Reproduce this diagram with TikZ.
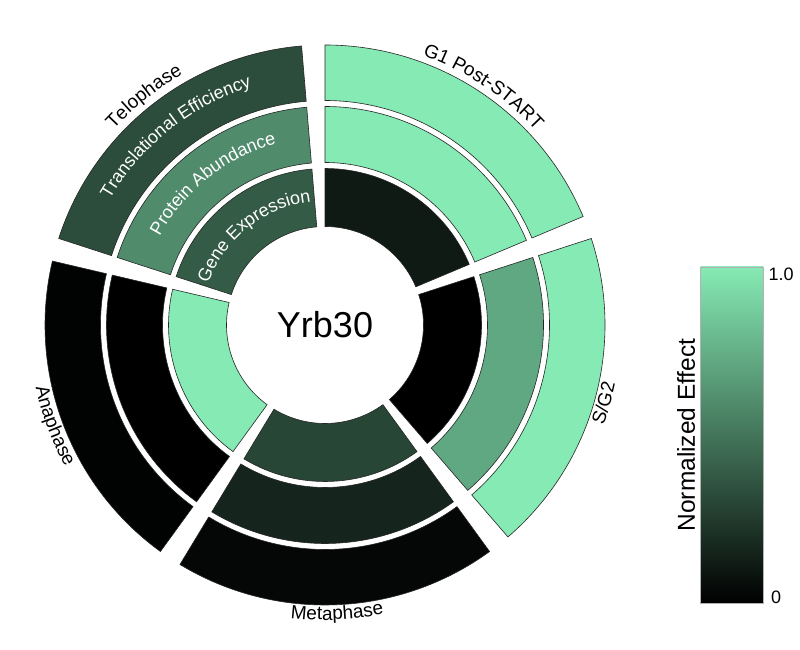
\documentclass[tikz,border=0pt]{standalone}
\usepackage{fontspec}
\setmainfont{Liberation Sans}
\usetikzlibrary{decorations.text}
\definecolor{lite}{RGB}{134,234,180}
\newcommand\lblfont{\fontsize{19}{21}\selectfont}
\newcommand\rlblfont{\fontsize{18}{20}\selectfont}
\newcommand\ringseg[5]{%
  \filldraw[segline, fill=#5] ([shift={(#1:#3pt)}]C) arc[start angle=#1, end angle=#2, radius=#3pt]
    -- ([shift={(#2:#4pt)}]C) arc[start angle=#2, end angle=#1, radius=#4pt] -- cycle;}
\newcommand\cwlabel[4]{% start angle, end angle, radius, text
  \path[decorate, decoration={text along path, text align=center, text={|\lblfont|#4}}]
    ([shift={(#1:#3pt)}]C) arc[start angle=#1, end angle=#2, radius=#3pt];}
\newcommand\wlabel[4]{%
  \path[decorate, decoration={text along path, text align=center, text color=white, text={|\rlblfont|#4}}]
    ([shift={(#1:#3pt)}]C) arc[start angle=#1, end angle=#2, radius=#3pt];}
\begin{document}
\begin{tikzpicture}[x=1pt,y=1pt,
  segline/.style={draw=black!85, line width=0.6pt, line join=miter}]
\fill[white] (0,0) rectangle (800,650);
\useasboundingbox (0,0) rectangle (800,650);
\coordinate (C) at (325,325);
% G1 Post-START
\ringseg{90}{22.8}{98.5}{156.5}{lite!11!black}
\ringseg{90}{22.8}{162.5}{218.5}{lite}
\ringseg{90}{22.8}{224.5}{280}{lite}
% S/G2
\ringseg{18}{-49.2}{98.5}{156.5}{black}
\ringseg{18}{-49.2}{162.5}{218.5}{lite!72!black}
\ringseg{18}{-49.2}{224.5}{280}{lite}
% Metaphase
\ringseg{-54}{-121.2}{98.5}{156.5}{lite!30!black}
\ringseg{-54}{-121.2}{162.5}{218.5}{lite!16!black}
\ringseg{-54}{-121.2}{224.5}{280}{lite!3!black}
% Anaphase
\ringseg{-126}{-193.2}{98.5}{156.5}{lite}
\ringseg{-126}{-193.2}{162.5}{218.5}{black}
\ringseg{-126}{-193.2}{224.5}{280}{lite!1!black}
% Telophase
\ringseg{162}{94.8}{98.5}{156.5}{lite!39!black}
\ringseg{162}{94.8}{162.5}{218.5}{lite!60!black}
\ringseg{162}{94.8}{224.5}{280}{lite!33!black}
% centre label
\node[font=\fontsize{36}{40}\selectfont] (yrb) at (C) {Yrb30};
% phase labels
\cwlabel{96.4}{16.4}{287}{G1 Post-START}
\cwlabel{168.4}{88.4}{288}{Telophase}
\cwlabel{-55.6}{24.4}{296}{S/G2}
\cwlabel{-127.6}{-47.6}{295}{Metaphase}
\cwlabel{-199.6}{-119.6}{296}{Anaphase}
% ring labels
\wlabel{178.4}{78.4}{124}{Gene Expression}
\wlabel{178.4}{78.4}{187.5}{Protein Abundance}
\wlabel{178.4}{78.4}{249}{Translational Efficiency}
% colour bar
\shade[top color=lite, bottom color=black] (700.5,47) rectangle (763,383);
\draw[gray!60, line width=0.4pt] (700.5,47) rectangle (763,383);
\node[anchor=west, font=\fontsize{18}{20}\selectfont, inner sep=0pt] (t1) at (768.5,376) {1.0};
\node[anchor=west, font=\fontsize{18}{20}\selectfont, inner sep=0pt] (t0) at (771,53) {0};
\node[rotate=90, font=\fontsize{24.5}{28}\selectfont, inner sep=0pt] (cbl) at (686,215) {Normalized Effect};
\end{tikzpicture}
\end{document}
